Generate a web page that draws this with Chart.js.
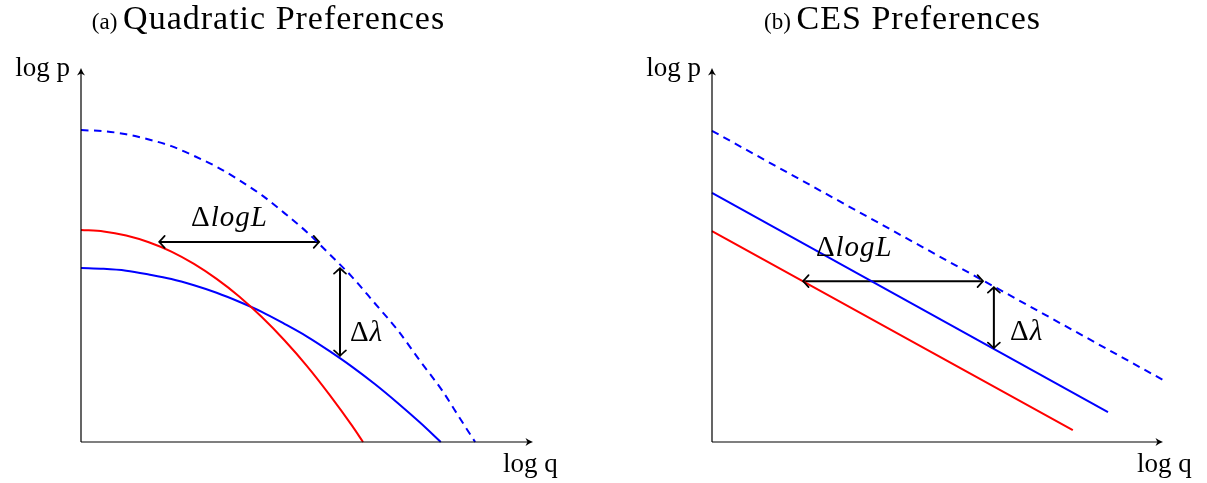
<!DOCTYPE html>
<html><head><meta charset="utf-8">
<script src="https://cdn.jsdelivr.net/npm/chart.js@4/dist/chart.umd.min.js"></script>
<style>
html,body{margin:0;padding:0;background:#fff;overflow:hidden}
#wrap{position:relative;width:1207px;height:483px}
.c{position:absolute;top:0;height:483px}
#ca{left:0;width:603px}
#cb{left:603px;width:604px}
</style></head><body>
<div id="wrap">
<div class="c" id="ca"><canvas id="a"></canvas></div>
<div class="c" id="cb"><canvas id="b"></canvas></div>
</div>
<script>
// ---------- Panel (a): Quadratic preferences (log q, log p) ----------
const quadDashedQ = [0, 0.5, 1, 1.5, 2, 2.5, 3, 3.5, 4, 4.5, 5, 5.5, 6, 6.5, 7, 7.5, 8, 8.4, 8.72];
const quadDashedP = [8.34, 8.31, 8.23, 8.09, 7.91, 7.65, 7.36, 7.00, 6.60, 6.12, 5.61, 5.02, 4.41, 3.71, 3.00, 2.17, 1.36, 0.60, 0];
const quadRedQ = [0, 0.5, 1, 1.5, 2, 2.5, 3, 3.5, 4, 4.5, 5, 5.5, 6, 6.24];
const quadRedP = [5.67, 5.63, 5.52, 5.34, 5.09, 4.76, 4.36, 3.89, 3.34, 2.72, 2.03, 1.26, 0.43, 0];
const quadBlueQ = [0, 0.5, 1, 1.5, 2, 2.5, 3, 3.5, 4, 4.5, 5, 5.5, 6, 6.5, 7, 7.5, 7.96];
const quadBlueP = [4.65, 4.63, 4.58, 4.48, 4.36, 4.19, 3.99, 3.75, 3.48, 3.16, 2.82, 2.43, 2.01, 1.55, 1.05, 0.52, 0];
const quadLogLQ = [1.73, 5.27];
const quadLogLP = [5.35, 5.35];
const quadLambdaQ = [5.73, 5.73];
const quadLambdaP = [4.65, 2.30];

// ---------- Panel (b): CES preferences ----------
const cesDashedQ = [0, 10];
const cesDashedP = [8.32, 1.66];
const cesBlueQ = [0, 8.78];
const cesBlueP = [6.66, 0.80];
const cesRedQ = [0, 8.00];
const cesRedP = [5.64, 0.32];
const cesLogLQ = [2.02, 6.01];
const cesLogLP = [4.30, 4.30];
const cesLambdaQ = [6.25, 6.25];
const cesLambdaP = [4.14, 2.51];

// Text
const titlesSmall = ['(a)', '(b)'];
const titlesMain = ['Quadratic Preferences', 'CES Preferences'];
const axisLabelY = 'log p';
const axisLabelX = 'log q';
const labelDelta = 'Δ';
const labelLogL = 'logL';
const labelLambda = 'λ';

const AXIS_MAX = 10;
const SERIF = '"Liberation Serif", "DejaVu Serif", serif';

function pts(q, p) { return q.map((v, i) => ({x: v, y: p[i]})); }

function curve(q, p, color, dashed, smooth) {
  return {
    data: pts(q, p), showLine: true, borderColor: color, borderWidth: 2,
    borderDash: dashed ? [7.5, 5.5] : [], pointRadius: 0, fill: false, clip: false,
    cubicInterpolationMode: smooth ? 'monotone' : 'default', tension: 0
  };
}
function arrowShaft(q, p) {
  return {
    data: pts(q, p), showLine: true, borderColor: '#000', borderWidth: 2,
    pointRadius: 0, fill: false, clip: false, isArrow: true
  };
}

function headTo(ctx, x, y, ang) {
  ctx.save();
  ctx.translate(x, y); ctx.rotate(ang);
  ctx.beginPath();
  ctx.moveTo(-5.5, -6);
  ctx.quadraticCurveTo(-1.5, -1.5, 0, 0);
  ctx.quadraticCurveTo(-1.5, 1.5, -5.5, 6);
  ctx.lineWidth = 1.7; ctx.strokeStyle = '#000'; ctx.lineCap = 'round';
  ctx.stroke();
  ctx.restore();
}
function headAxis(ctx, x, y, ang) {
  ctx.save();
  ctx.translate(x, y); ctx.rotate(ang);
  ctx.beginPath();
  ctx.moveTo(0, 0);
  ctx.quadraticCurveTo(-3.5, -1.2, -7.5, -4);
  ctx.lineTo(-5.5, 0);
  ctx.lineTo(-7.5, 4);
  ctx.quadraticCurveTo(-3.5, 1.2, 0, 0);
  ctx.closePath();
  ctx.fillStyle = '#000'; ctx.fill();
  ctx.restore();
}

function drawMath(ctx, parts, x, y, align) {
  const size = 29;
  let total = 0;
  const ws = parts.map(pt => {
    ctx.font = (pt.italic ? 'italic ' : '') + size + 'px ' + SERIF;
    const w = ctx.measureText(pt.t).width; total += w; return w;
  });
  let cx = align === 'center' ? x - total / 2 : x;
  ctx.textBaseline = 'middle'; ctx.textAlign = 'left'; ctx.fillStyle = '#000';
  parts.forEach((pt, i) => {
    ctx.font = (pt.italic ? 'italic ' : '') + size + 'px ' + SERIF;
    ctx.letterSpacing = pt.italic ? '1px' : '0px';
    ctx.fillText(pt.t, cx, y); cx += ws[i] + (pt.italic ? 0 : 1);
  });
  ctx.letterSpacing = '0px';
}

const decoPlugin = {
  id: 'deco',
  afterDatasetsDraw(chart, args, opts) {
    const ctx = chart.ctx, xs = chart.scales.x, ys = chart.scales.y;
    const x0 = xs.getPixelForValue(0), y0 = ys.getPixelForValue(0);
    const x1 = xs.getPixelForValue(AXIS_MAX), y1 = ys.getPixelForValue(AXIS_MAX);
    ctx.save();
    // axes
    ctx.strokeStyle = '#000'; ctx.lineWidth = 1.2;
    ctx.beginPath();
    ctx.moveTo(x0, y0); ctx.lineTo(x1 - 3, y0);
    ctx.moveTo(x0, y0); ctx.lineTo(x0, y1 + 3);
    ctx.stroke();
    headAxis(ctx, x1, y0, 0);
    headAxis(ctx, x0, y1, -Math.PI / 2);
    // double arrows
    chart.data.datasets.forEach(ds => {
      if (!ds.isArrow) return;
      const a = ds.data[0], b = ds.data[ds.data.length - 1];
      const ax = xs.getPixelForValue(a.x), ay = ys.getPixelForValue(a.y);
      const bx = xs.getPixelForValue(b.x), by = ys.getPixelForValue(b.y);
      const ang = Math.atan2(by - ay, bx - ax);
      headTo(ctx, bx, by, ang);
      headTo(ctx, ax, ay, ang + Math.PI);
    });
    // axis labels
    ctx.fillStyle = '#000';
    ctx.font = '27px ' + SERIF;
    ctx.textBaseline = 'alphabetic';
    ctx.textAlign = 'right';
    ctx.fillText(axisLabelY, x0 - 11, y1 + 8);
    ctx.textAlign = 'left';
    ctx.fillText(axisLabelX, x1 + opts.qLabelDx, y0 + 30);
    // math labels
    drawMath(ctx, [{t: labelDelta}, {t: labelLogL, italic: true}],
      xs.getPixelForValue(opts.logLPos[0]), ys.getPixelForValue(opts.logLPos[1]), 'center');
    drawMath(ctx, [{t: labelDelta}, {t: labelLambda, italic: true}],
      xs.getPixelForValue(opts.lambdaPos[0]), ys.getPixelForValue(opts.lambdaPos[1]), 'left');
    // title
    ctx.textBaseline = 'alphabetic'; ctx.textAlign = 'left';
    ctx.letterSpacing = '0px';
    ctx.font = '23px ' + SERIF;
    const ws = ctx.measureText(opts.small + ' ').width;
    ctx.font = '34px ' + SERIF;
    ctx.letterSpacing = '1px';
    const wm = ctx.measureText(opts.main).width;
    let tx = opts.titleX - (ws + wm) / 2;
    ctx.letterSpacing = '0px';
    ctx.font = '23px ' + SERIF;
    ctx.fillText(opts.small, tx, 29);
    ctx.font = '34px ' + SERIF;
    ctx.letterSpacing = '1px';
    ctx.fillText(opts.main, tx + ws, 29);
    ctx.letterSpacing = '0px';
    ctx.restore();
  }
};

function makeChart(id, datasets, pad, deco) {
  return new Chart(document.getElementById(id), {
    type: 'scatter',
    data: {datasets},
    options: {
      responsive: true, maintainAspectRatio: false, animation: false,
      layout: {padding: pad},
      scales: {
        x: {type: 'linear', min: 0, max: AXIS_MAX, display: false},
        y: {type: 'linear', min: 0, max: AXIS_MAX, display: false}
      },
      plugins: {legend: {display: false}, tooltip: {enabled: false}, deco}
    },
    plugins: [decoPlugin]
  });
}

makeChart('a', [
  curve(quadDashedQ, quadDashedP, '#0000ff', true, true),
  curve(quadRedQ, quadRedP, '#ff0000', false, true),
  curve(quadBlueQ, quadBlueP, '#0000ff', false, true),
  arrowShaft(quadLogLQ, quadLogLP),
  arrowShaft(quadLambdaQ, quadLambdaP)
], {left: 81, right: 70, top: 68, bottom: 41},
{small: titlesSmall[0], main: titlesMain[0], titleX: 268.5, qLabelDx: -30,
 logLPos: [3.23, 5.99], lambdaPos: [5.95, 2.91]});

makeChart('b', [
  curve(cesDashedQ, cesDashedP, '#0000ff', true, false),
  curve(cesBlueQ, cesBlueP, '#0000ff', false, false),
  curve(cesRedQ, cesRedP, '#ff0000', false, false),
  arrowShaft(cesLogLQ, cesLogLP),
  arrowShaft(cesLambdaQ, cesLambdaP)
], {left: 109, right: 44, top: 68, bottom: 41},
{small: titlesSmall[1], main: titlesMain[1], titleX: 299.5, qLabelDx: -26,
 logLPos: [3.10, 5.19], lambdaPos: [6.61, 2.94]});
</script>
</body></html>
